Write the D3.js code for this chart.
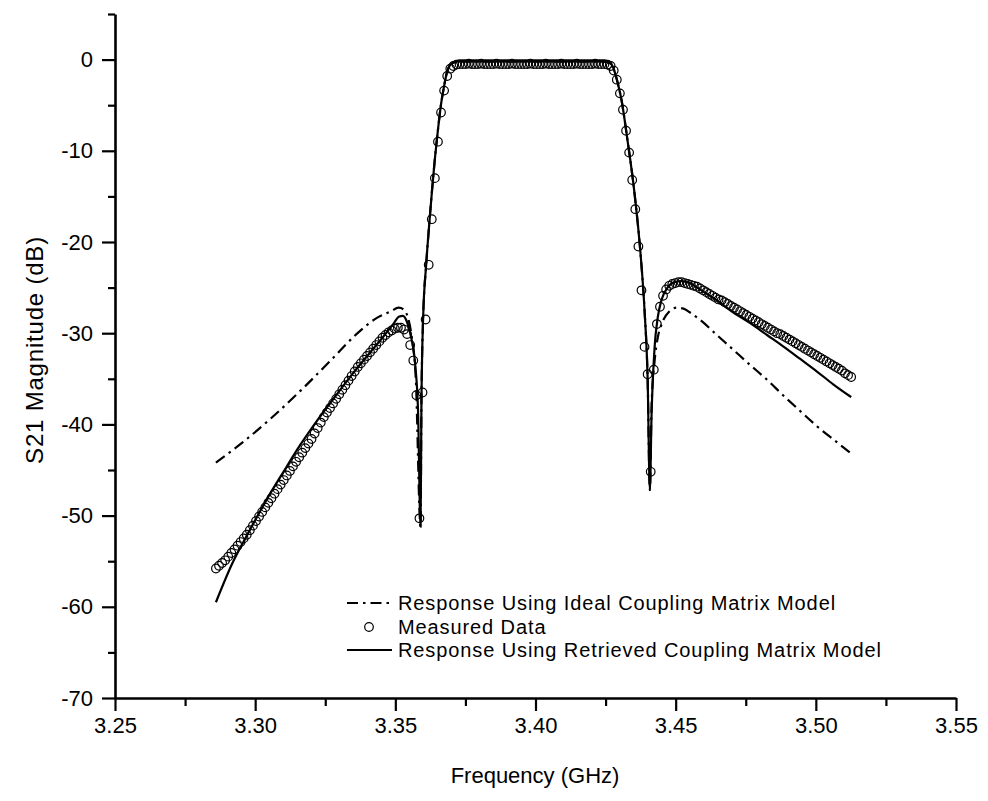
<!DOCTYPE html>
<html>
<head>
<meta charset="utf-8">
<script src="https://cdn.jsdelivr.net/npm/d3@7"></script>
<style>
  body { margin: 0; background: #fff; }
  svg text { font-family: "Liberation Sans", Arial, sans-serif; fill: #000; }
</style>
</head>
<body>
<svg></svg>
<script>
var width = 988;
var height = 801;

// measured S21 (dB), one point every 0.0011 GHz starting at 3.286 GHz
var measuredStart = 3.286;
var measuredStep = 0.0011;
var measuredDb = [
  -55.8, -55.5, -55.2, -54.9, -54.5, -54.1, -53.7, -53.3, -52.9, -52.5,
  -52.1, -51.6, -51.1, -50.6, -50.1, -49.6, -49.1, -48.6, -48.1, -47.6,
  -47.1, -46.6, -46.1, -45.6, -45.1, -44.6, -44.1, -43.6, -43.1, -42.6,
  -42.1, -41.6, -41.0, -40.4, -39.8, -39.2, -38.7, -38.2, -37.7, -37.2,
  -36.7, -36.2, -35.7, -35.2, -34.7, -34.2, -33.7, -33.3, -32.9, -32.5,
  -32.1, -31.7, -31.3, -30.9, -30.5, -30.2, -29.9, -29.7, -29.5, -29.4,
  -29.4, -29.6, -30.1, -31.3, -33.0, -36.8, -50.3, -36.5, -28.5, -22.5,
  -17.5, -13.0, -9.0, -5.8, -3.4, -1.8, -1.0, -0.7, -0.55, -0.5,
  -0.5, -0.5, -0.45, -0.5, -0.5, -0.5, -0.45, -0.5, -0.5, -0.5,
  -0.5, -0.45, -0.5, -0.5, -0.5, -0.5, -0.45, -0.5, -0.5, -0.5,
  -0.5, -0.5, -0.45, -0.5, -0.5, -0.5, -0.5, -0.45, -0.5, -0.5,
  -0.5, -0.5, -0.45, -0.5, -0.5, -0.5, -0.5, -0.45, -0.5, -0.5,
  -0.5, -0.5, -0.5, -0.45, -0.5, -0.5, -0.5, -0.55, -0.7, -1.2,
  -2.2, -3.7, -5.5, -7.8, -10.2, -13.2, -16.4, -20.5, -25.3, -31.5,
  -34.5, -45.2, -34.0, -29.0, -27.1, -25.9, -25.2, -24.8, -24.6, -24.5,
  -24.4, -24.4, -24.5, -24.6, -24.7, -24.8, -24.9, -25.1, -25.3, -25.5,
  -25.7, -25.9, -26.1, -26.3, -26.4, -26.6, -26.8, -27.0, -27.2, -27.4,
  -27.6, -27.8, -28.0, -28.2, -28.4, -28.6, -28.8, -29.0, -29.2, -29.4,
  -29.6, -29.8, -30.0, -30.1, -30.3, -30.5, -30.7, -30.9, -31.1, -31.3,
  -31.5, -31.7, -31.9, -32.1, -32.3, -32.5, -32.7, -32.9, -33.1, -33.3,
  -33.5, -33.7, -33.9, -34.1, -34.4, -34.6, -34.8
];

// response using the retrieved coupling matrix
var retrievedFreq = [
  3.2860, 3.2919, 3.2979, 3.3040, 3.3101, 3.3162, 3.3223, 3.3284, 3.3344, 3.3405,
  3.3459, 3.3495, 3.3512, 3.3527, 3.3542, 3.3556, 3.3571, 3.3581, 3.3590, 3.3593,
  3.3599, 3.3610, 3.3620, 3.3631, 3.3641, 3.3652, 3.3663, 3.3674, 3.3684, 3.3695,
  3.3709, 3.3730, 3.3980, 3.4240, 3.4267, 3.4281, 3.4292, 3.4306, 3.4328, 3.4353,
  3.4375, 3.4389, 3.4400, 3.4408, 3.4414, 3.4425, 3.4436, 3.4450, 3.4471, 3.4496,
  3.4521, 3.4550, 3.4586, 3.4647, 3.4705, 3.4766, 3.4826, 3.4886, 3.4943, 3.5004,
  3.5062, 3.5126
];
var retrievedDb = [
  -59.5, -55.2, -51.7, -48.3, -45.2, -42.2, -39.5, -37.0, -34.6, -32.3,
  -30.3, -28.9, -28.2, -28.1, -28.8, -30.4, -33.5, -38.5, -51.2, -38.0,
  -28.5, -22.5, -18.4, -14.3, -10.9, -7.7, -4.9, -2.9, -1.4, -0.6,
  -0.3, -0.2, -0.2, -0.2, -0.4, -1.2, -2.4, -4.3, -8.8, -14.6,
  -21.4, -27.5, -35.0, -47.2, -39.0, -31.5, -28.3, -26.3, -25.0, -24.4,
  -24.3, -24.5, -25.2, -26.4, -27.7, -28.9, -30.2, -31.5, -32.8, -34.2,
  -35.6, -37.0
];

// response using the ideal coupling matrix
var idealFreq = [
  3.2860, 3.2946, 3.3054, 3.3162, 3.3269, 3.3358, 3.3430, 3.3484, 3.3512, 3.3530,
  3.3545, 3.3559, 3.3573, 3.3590, 3.3593, 3.3599, 3.3610, 3.3620, 3.3631, 3.3641,
  3.3652, 3.3663, 3.3674, 3.3684, 3.3695, 3.3709, 3.3730, 3.3980, 3.4240, 3.4267,
  3.4281, 3.4292, 3.4306, 3.4328, 3.4353, 3.4375, 3.4389, 3.4400, 3.4408, 3.4414,
  3.4425, 3.4436, 3.4450, 3.4478, 3.4503, 3.4528, 3.4550, 3.4586, 3.4647, 3.4705,
  3.4766, 3.4826, 3.4883, 3.4943, 3.5004, 3.5069, 3.5126
];
var idealDb = [
  -44.2, -42.2, -39.4, -36.3, -33.0, -30.2, -28.4, -27.6, -27.2, -27.4,
  -28.3, -30.5, -35.0, -51.2, -38.0, -28.5, -22.5, -18.4, -14.3, -10.9,
  -7.7, -4.9, -2.9, -1.4, -0.6, -0.3, -0.2, -0.2, -0.2, -0.4,
  -1.2, -2.4, -4.3, -8.8, -14.6, -21.4, -27.5, -35.0, -47.2, -38.0,
  -33.0, -30.5, -29.0, -27.6, -27.2, -27.3, -27.7, -28.5, -30.2, -31.8,
  -33.5, -35.1, -36.8, -38.5, -40.2, -41.8, -43.2
];

var xTicks = [3.25, 3.30, 3.35, 3.40, 3.45, 3.50, 3.55];
var yTicks = [0, -10, -20, -30, -40, -50, -60, -70];

var legendLabels = [
  "Response Using Ideal Coupling Matrix Model",
  "Measured Data",
  "Response Using Retrieved Coupling Matrix Model"
];

var svg = d3.select('svg')
    .attr('width', width)
    .attr('height', height);

var x = d3.scaleLinear().domain([3.25, 3.55]).range([115, 956]);
var y = d3.scaleLinear().domain([-70, 5]).range([698, 14]);

// minor ticks first, then major ticks with labels
svg.append('g')
    .attr('transform', 'translate(0,' + y(-70) + ')')
    .call(d3.axisBottom(x).tickValues(d3.range(3.275, 3.55, 0.05)).tickSize(8).tickFormat(''))
    .call(g => g.select('.domain').remove());

svg.append('g')
    .attr('transform', 'translate(' + x(3.25) + ',0)')
    .call(d3.axisLeft(y).tickValues([5, -5, -15, -25, -35, -45, -55, -65]).tickSize(7).tickFormat(''))
    .call(g => g.select('.domain').remove());

var xAxis = svg.append('g')
    .attr('class', 'x axis')
    .attr('transform', 'translate(0,' + y(-70) + ')')
    .call(d3.axisBottom(x).tickValues(xTicks).tickSize(13).tickSizeOuter(0).tickPadding(6)
      .tickFormat(d3.format('.2f')));

var yAxis = svg.append('g')
    .attr('class', 'y axis')
    .attr('transform', 'translate(' + x(3.25) + ',0)')
    .call(d3.axisLeft(y).tickValues(yTicks).tickSize(13).tickSizeOuter(0).tickPadding(9)
      .tickFormat(d3.format('d')));

svg.selectAll('.tick line').attr('stroke', '#000').attr('stroke-width', 2.2);
svg.selectAll('.domain').attr('stroke', '#000').attr('stroke-width', 2.6);
svg.selectAll('.axis text').attr('font-size', 22).attr('font-family', '"Liberation Sans", Arial, sans-serif');
// plain hyphen instead of d3's unicode minus, like the original
yAxis.selectAll('.tick text').text(d => d === 0 ? '0' : '-' + Math.abs(d));

svg.append('text')
    .attr('x', 535)
    .attr('y', 783)
    .attr('text-anchor', 'middle')
    .attr('font-size', 22)
    .text('Frequency (GHz)');

svg.append('text')
    .attr('transform', 'translate(43,350) rotate(-90)')
    .attr('text-anchor', 'middle')
    .attr('font-size', 24)
    .attr('letter-spacing', 0.8)
    .text('S21 Magnitude (dB)');

var line = d3.line()
    .x(d => x(d[0]))
    .y(d => y(d[1]))
    .curve(d3.curveMonotoneX);

var retrieved = retrievedFreq.map((f, i) => [f, retrievedDb[i]]);
var ideal = idealFreq.map((f, i) => [f, idealDb[i]]);
var measured = measuredDb.map((v, i) => [measuredStart + i * measuredStep, v]);

svg.append('path')
    .datum(retrieved)
    .attr('d', line)
    .attr('fill', 'none')
    .attr('stroke', '#000')
    .attr('stroke-width', 2.2);

svg.append('path')
    .datum(ideal)
    .attr('d', line)
    .attr('fill', 'none')
    .attr('stroke', '#000')
    .attr('stroke-width', 2.2)
    .attr('stroke-dasharray', '11,5,2.5,5');

svg.append('g')
    .selectAll('circle')
    .data(measured)
    .enter()
    .append('circle')
    .attr('cx', d => x(d[0]))
    .attr('cy', d => y(d[1]))
    .attr('r', 4.3)
    .attr('fill', 'none')
    .attr('stroke', '#000')
    .attr('stroke-width', 1.2);

// legend
var legend = svg.append('g').attr('transform', 'translate(347,603)');

legend.append('line')
    .attr('x1', 0).attr('x2', 45).attr('y1', 0).attr('y2', 0)
    .attr('stroke', '#000').attr('stroke-width', 2.2)
    .attr('stroke-dasharray', '11,5,2.5,5');
legend.append('circle')
    .attr('cx', 22).attr('cy', 24).attr('r', 4.3)
    .attr('fill', 'none').attr('stroke', '#000').attr('stroke-width', 1.2);
legend.append('line')
    .attr('x1', 0).attr('x2', 45).attr('y1', 47).attr('y2', 47)
    .attr('stroke', '#000').attr('stroke-width', 2.2);

legend.selectAll('text.leg')
    .data(legendLabels)
    .enter()
    .append('text')
    .attr('class', 'leg')
    .attr('x', 51)
    .attr('y', (d, i) => i * 23.5 + 7)
    .attr('font-size', 20)
    .attr('letter-spacing', 0.9)
    .text(d => d);
</script>
</body>
</html>
